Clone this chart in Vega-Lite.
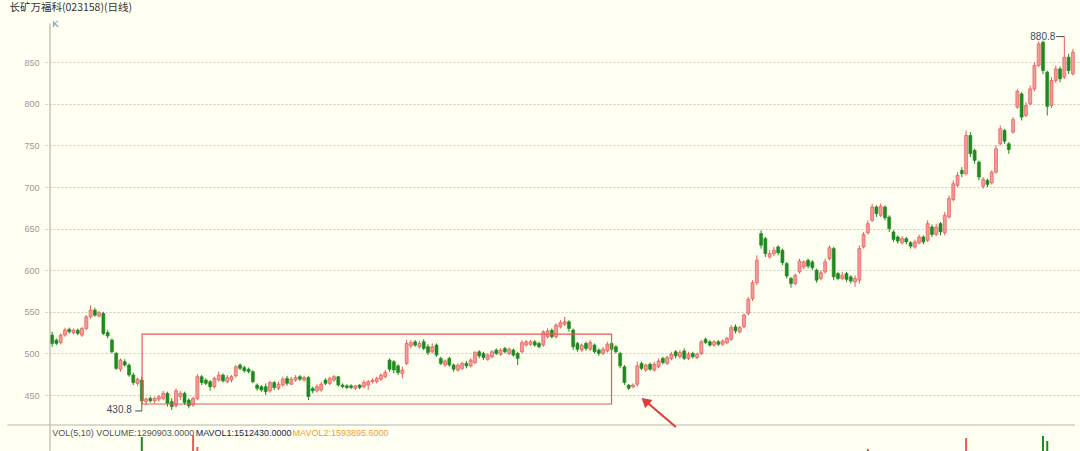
{
  "$schema": "https://vega.github.io/schema/vega-lite/v6.json",
  "width": 1035,
  "height": 451,
  "autosize": {"type": "none"},
  "padding": {"left": 45, "top": 0, "right": 0, "bottom": 0},
  "background": "#fffff2",
  "config": {"view": {"stroke": null}},
  "datasets": {
    "k": [
{"t":0,"o":522,"h":526,"l":508,"c":512,"v":1350000},
{"t":1,"o":516,"h":518,"l":510,"c":512,"v":1120000},
{"t":2,"o":513,"h":524,"l":511,"c":522,"v":1280000},
{"t":3,"o":522,"h":531,"l":520,"c":528,"v":1410000},
{"t":4,"o":529,"h":531,"l":524,"c":526,"v":980000},
{"t":5,"o":525,"h":530,"l":523,"c":528,"v":1050000},
{"t":6,"o":528,"h":530,"l":522,"c":524,"v":920000},
{"t":7,"o":522,"h":532,"l":520,"c":530,"v":1330000},
{"t":8,"o":530,"h":546,"l":528,"c":544,"v":1760000},
{"t":9,"o":544,"h":558,"l":542,"c":552,"v":1980000},
{"t":10,"o":552,"h":555,"l":544,"c":546,"v":1540000},
{"t":11,"o":545,"h":551,"l":543,"c":549,"v":1210000},
{"t":12,"o":548,"h":550,"l":522,"c":524,"v":1690000},
{"t":13,"o":525,"h":528,"l":518,"c":521,"v":1240000},
{"t":14,"o":516,"h":518,"l":500,"c":502,"v":1580000},
{"t":15,"o":500,"h":502,"l":480,"c":482,"v":1870000},
{"t":16,"o":481,"h":494,"l":478,"c":492,"v":1460000},
{"t":17,"o":490,"h":493,"l":484,"c":486,"v":1120000},
{"t":18,"o":486,"h":488,"l":472,"c":474,"v":1390000},
{"t":19,"o":474,"h":477,"l":462,"c":465,"v":1520000},
{"t":20,"o":464,"h":471,"l":461,"c":469,"v":1180000},
{"t":21,"o":468,"h":472,"l":430.8,"c":443,"v":2657000},
{"t":22,"o":442,"h":447,"l":438,"c":445,"v":1650000},
{"t":23,"o":446,"h":448,"l":441,"c":443,"v":1240000},
{"t":24,"o":443,"h":448,"l":440,"c":446,"v":1080000},
{"t":25,"o":445,"h":450,"l":442,"c":448,"v":990000},
{"t":26,"o":446,"h":455,"l":444,"c":452,"v":1150000},
{"t":27,"o":452,"h":454,"l":436,"c":440,"v":1430000},
{"t":28,"o":442,"h":446,"l":432,"c":436,"v":1560000},
{"t":29,"o":437,"h":458,"l":435,"c":455,"v":1720000},
{"t":30,"o":448,"h":455,"l":444,"c":452,"v":1310000},
{"t":31,"o":452,"h":454,"l":438,"c":441,"v":1260000},
{"t":32,"o":444,"h":446,"l":434,"c":437,"v":1190000},
{"t":33,"o":438,"h":448,"l":436,"c":446,"v":2714000},
{"t":34,"o":446,"h":475,"l":444,"c":472,"v":2371000},
{"t":35,"o":472,"h":474,"l":462,"c":465,"v":1840000},
{"t":36,"o":468,"h":470,"l":462,"c":464,"v":1420000},
{"t":37,"o":466,"h":468,"l":455,"c":460,"v":1260000},
{"t":38,"o":460,"h":472,"l":458,"c":470,"v":1380000},
{"t":39,"o":468,"h":478,"l":466,"c":474,"v":1450000},
{"t":40,"o":474,"h":476,"l":465,"c":467,"v":1170000},
{"t":41,"o":466,"h":474,"l":464,"c":471,"v":1090000},
{"t":42,"o":468,"h":474,"l":465,"c":472,"v":1010000},
{"t":43,"o":473,"h":486,"l":471,"c":484,"v":1540000},
{"t":44,"o":486,"h":488,"l":480,"c":482,"v":1320000},
{"t":45,"o":483,"h":485,"l":477,"c":479,"v":1150000},
{"t":46,"o":481,"h":483,"l":476,"c":478,"v":1060000},
{"t":47,"o":478,"h":480,"l":464,"c":466,"v":1480000},
{"t":48,"o":462,"h":464,"l":455,"c":458,"v":1390000},
{"t":49,"o":460,"h":462,"l":454,"c":456,"v":1120000},
{"t":50,"o":460,"h":464,"l":450,"c":454,"v":1250000},
{"t":51,"o":455,"h":467,"l":453,"c":465,"v":1360000},
{"t":52,"o":465,"h":467,"l":456,"c":459,"v":1080000},
{"t":53,"o":458,"h":466,"l":456,"c":463,"v":970000},
{"t":54,"o":462,"h":472,"l":460,"c":469,"v":1210000},
{"t":55,"o":470,"h":473,"l":461,"c":464,"v":1130000},
{"t":56,"o":463,"h":472,"l":462,"c":469,"v":1050000},
{"t":57,"o":468,"h":474,"l":466,"c":471,"v":990000},
{"t":58,"o":472,"h":474,"l":467,"c":469,"v":920000},
{"t":59,"o":468,"h":473,"l":466,"c":471,"v":1010000},
{"t":60,"o":471,"h":473,"l":444,"c":448,"v":1640000},
{"t":61,"o":458,"h":460,"l":452,"c":455,"v":1280000},
{"t":62,"o":455,"h":463,"l":453,"c":460,"v":1110000},
{"t":63,"o":456,"h":466,"l":454,"c":463,"v":1190000},
{"t":64,"o":468,"h":470,"l":462,"c":464,"v":1040000},
{"t":65,"o":464,"h":472,"l":462,"c":470,"v":1160000},
{"t":66,"o":468,"h":474,"l":466,"c":472,"v":1090000},
{"t":67,"o":472,"h":473,"l":460,"c":462,"v":1220000},
{"t":68,"o":462,"h":464,"l":458,"c":460,"v":980000},
{"t":69,"o":461,"h":463,"l":457,"c":459,"v":890000},
{"t":70,"o":461,"h":463,"l":457,"c":459,"v":860000},
{"t":71,"o":458,"h":462,"l":456,"c":461,"v":910000},
{"t":72,"o":462,"h":463,"l":457,"c":459,"v":870000},
{"t":73,"o":460,"h":468,"l":458,"c":465,"v":1020000},
{"t":74,"o":462,"h":468,"l":456,"c":466,"v":1090000},
{"t":75,"o":466,"h":470,"l":464,"c":468,"v":950000},
{"t":76,"o":466,"h":472,"l":464,"c":470,"v":1030000},
{"t":77,"o":469,"h":476,"l":467,"c":474,"v":1110000},
{"t":78,"o":472,"h":480,"l":470,"c":477,"v":1180000},
{"t":79,"o":492,"h":494,"l":478,"c":481,"v":1460000},
{"t":80,"o":490,"h":492,"l":476,"c":480,"v":1320000},
{"t":81,"o":485,"h":487,"l":474,"c":477,"v":1210000},
{"t":82,"o":476,"h":484,"l":470,"c":480,"v":1150000},
{"t":83,"o":488,"h":516,"l":486,"c":512,"v":2050000},
{"t":84,"o":509,"h":516,"l":506,"c":513,"v":1580000},
{"t":85,"o":514,"h":516,"l":508,"c":510,"v":1240000},
{"t":86,"o":508,"h":515,"l":506,"c":512,"v":1130000},
{"t":87,"o":514,"h":517,"l":504,"c":506,"v":1270000},
{"t":88,"o":508,"h":511,"l":498,"c":501,"v":1190000},
{"t":89,"o":502,"h":512,"l":500,"c":508,"v":1080000},
{"t":90,"o":510,"h":512,"l":496,"c":498,"v":1210000},
{"t":91,"o":494,"h":496,"l":486,"c":488,"v":1350000},
{"t":92,"o":486,"h":493,"l":484,"c":491,"v":1060000},
{"t":93,"o":494,"h":496,"l":484,"c":486,"v":1140000},
{"t":94,"o":486,"h":488,"l":478,"c":481,"v":1230000},
{"t":95,"o":480,"h":488,"l":478,"c":486,"v":1070000},
{"t":96,"o":482,"h":490,"l":480,"c":488,"v":1010000},
{"t":97,"o":488,"h":491,"l":482,"c":485,"v":980000},
{"t":98,"o":485,"h":494,"l":483,"c":492,"v":1120000},
{"t":99,"o":489,"h":503,"l":487,"c":501,"v":1390000},
{"t":100,"o":502,"h":504,"l":494,"c":497,"v":1210000},
{"t":101,"o":500,"h":502,"l":492,"c":495,"v":1080000},
{"t":102,"o":493,"h":500,"l":491,"c":498,"v":990000},
{"t":103,"o":496,"h":504,"l":494,"c":502,"v":1040000},
{"t":104,"o":504,"h":506,"l":498,"c":500,"v":950000},
{"t":105,"o":499,"h":506,"l":497,"c":504,"v":1010000},
{"t":106,"o":506,"h":508,"l":500,"c":502,"v":970000},
{"t":107,"o":500,"h":507,"l":498,"c":505,"v":930000},
{"t":108,"o":504,"h":506,"l":496,"c":498,"v":1060000},
{"t":109,"o":500,"h":502,"l":486,"c":494,"v":1240000},
{"t":110,"o":502,"h":516,"l":500,"c":513,"v":1470000},
{"t":111,"o":510,"h":516,"l":508,"c":514,"v":1150000},
{"t":112,"o":511,"h":516,"l":509,"c":514,"v":1060000},
{"t":113,"o":514,"h":516,"l":508,"c":510,"v":1010000},
{"t":114,"o":512,"h":514,"l":506,"c":508,"v":980000},
{"t":115,"o":510,"h":528,"l":508,"c":526,"v":1620000},
{"t":116,"o":520,"h":530,"l":518,"c":527,"v":1380000},
{"t":117,"o":528,"h":530,"l":518,"c":520,"v":1290000},
{"t":118,"o":520,"h":536,"l":518,"c":534,"v":1540000},
{"t":119,"o":532,"h":540,"l":530,"c":537,"v":1460000},
{"t":120,"o":535,"h":544,"l":533,"c":538,"v":1570000},
{"t":121,"o":538,"h":540,"l":526,"c":530,"v":1330000},
{"t":122,"o":528,"h":530,"l":504,"c":508,"v":1780000},
{"t":123,"o":512,"h":514,"l":502,"c":505,"v":1290000},
{"t":124,"o":504,"h":512,"l":502,"c":510,"v":1120000},
{"t":125,"o":512,"h":514,"l":503,"c":506,"v":1060000},
{"t":126,"o":505,"h":516,"l":503,"c":513,"v":1150000},
{"t":127,"o":510,"h":512,"l":500,"c":502,"v":1090000},
{"t":128,"o":504,"h":506,"l":497,"c":500,"v":1010000},
{"t":129,"o":500,"h":508,"l":498,"c":505,"v":970000},
{"t":130,"o":503,"h":514,"l":501,"c":511,"v":1080000},
{"t":131,"o":512,"h":514,"l":502,"c":505,"v":1190000},
{"t":132,"o":508,"h":510,"l":500,"c":502,"v":1230000},
{"t":133,"o":500,"h":502,"l":482,"c":485,"v":1680000},
{"t":134,"o":484,"h":486,"l":462,"c":465,"v":1920000},
{"t":135,"o":462,"h":463,"l":456,"c":458,"v":1390000},
{"t":136,"o":460,"h":464,"l":458,"c":462,"v":1120000},
{"t":137,"o":463,"h":490,"l":460,"c":485,"v":1850000},
{"t":138,"o":488,"h":490,"l":480,"c":482,"v":1340000},
{"t":139,"o":480,"h":488,"l":478,"c":486,"v":1120000},
{"t":140,"o":487,"h":489,"l":479,"c":481,"v":1060000},
{"t":141,"o":480,"h":490,"l":478,"c":487,"v":1150000},
{"t":142,"o":484,"h":494,"l":482,"c":491,"v":1210000},
{"t":143,"o":494,"h":496,"l":487,"c":489,"v":1080000},
{"t":144,"o":488,"h":497,"l":486,"c":495,"v":1130000},
{"t":145,"o":494,"h":502,"l":492,"c":499,"v":1190000},
{"t":146,"o":502,"h":504,"l":494,"c":497,"v":1060000},
{"t":147,"o":496,"h":504,"l":494,"c":501,"v":1010000},
{"t":148,"o":503,"h":506,"l":492,"c":494,"v":1140000},
{"t":149,"o":494,"h":502,"l":492,"c":499,"v":1030000},
{"t":150,"o":500,"h":502,"l":494,"c":496,"v":980000},
{"t":151,"o":495,"h":501,"l":493,"c":499,"v":940000},
{"t":152,"o":500,"h":516,"l":498,"c":514,"v":1560000},
{"t":153,"o":517,"h":519,"l":511,"c":513,"v":1290000},
{"t":154,"o":514,"h":516,"l":508,"c":510,"v":1110000},
{"t":155,"o":510,"h":516,"l":508,"c":514,"v":1060000},
{"t":156,"o":514,"h":516,"l":509,"c":511,"v":990000},
{"t":157,"o":511,"h":517,"l":509,"c":515,"v":1040000},
{"t":158,"o":513,"h":520,"l":511,"c":518,"v":1120000},
{"t":159,"o":517,"h":534,"l":515,"c":531,"v":1640000},
{"t":160,"o":532,"h":535,"l":524,"c":527,"v":1310000},
{"t":161,"o":526,"h":533,"l":524,"c":531,"v":1190000},
{"t":162,"o":532,"h":548,"l":530,"c":546,"v":1580000},
{"t":163,"o":548,"h":568,"l":546,"c":565,"v":1820000},
{"t":164,"o":566,"h":588,"l":563,"c":585,"v":2010000},
{"t":165,"o":585,"h":618,"l":582,"c":612,"v":2150000},
{"t":166,"o":644,"h":648,"l":626,"c":630,"v":2080000},
{"t":167,"o":638,"h":640,"l":616,"c":620,"v":1870000},
{"t":168,"o":616,"h":624,"l":614,"c":620,"v":1460000},
{"t":169,"o":620,"h":628,"l":617,"c":624,"v":1320000},
{"t":170,"o":628,"h":630,"l":618,"c":621,"v":1280000},
{"t":171,"o":624,"h":626,"l":606,"c":609,"v":1540000},
{"t":172,"o":608,"h":610,"l":590,"c":593,"v":1610000},
{"t":173,"o":590,"h":592,"l":579,"c":584,"v":1470000},
{"t":174,"o":584,"h":596,"l":582,"c":594,"v":1280000},
{"t":175,"o":598,"h":614,"l":596,"c":611,"v":1430000},
{"t":176,"o":604,"h":612,"l":601,"c":610,"v":1310000},
{"t":177,"o":612,"h":614,"l":602,"c":605,"v":1240000},
{"t":178,"o":610,"h":612,"l":600,"c":603,"v":1190000},
{"t":179,"o":600,"h":602,"l":585,"c":588,"v":1420000},
{"t":180,"o":590,"h":600,"l":588,"c":597,"v":1260000},
{"t":181,"o":598,"h":614,"l":596,"c":610,"v":1390000},
{"t":182,"o":614,"h":630,"l":612,"c":627,"v":1570000},
{"t":183,"o":626,"h":628,"l":588,"c":592,"v":1830000},
{"t":184,"o":596,"h":598,"l":588,"c":590,"v":1360000},
{"t":185,"o":590,"h":598,"l":588,"c":594,"v":1180000},
{"t":186,"o":596,"h":598,"l":586,"c":589,"v":1120000},
{"t":187,"o":592,"h":594,"l":584,"c":587,"v":1090000},
{"t":188,"o":586,"h":594,"l":580,"c":590,"v":1210000},
{"t":189,"o":588,"h":630,"l":584,"c":626,"v":1960000},
{"t":190,"o":628,"h":646,"l":626,"c":643,"v":2080000},
{"t":191,"o":645,"h":660,"l":643,"c":656,"v":2314000},
{"t":192,"o":660,"h":680,"l":658,"c":676,"v":2120000},
{"t":193,"o":676,"h":678,"l":664,"c":668,"v":1740000},
{"t":194,"o":666,"h":680,"l":664,"c":677,"v":1620000},
{"t":195,"o":676,"h":678,"l":660,"c":663,"v":1580000},
{"t":196,"o":664,"h":666,"l":646,"c":650,"v":1490000},
{"t":197,"o":646,"h":648,"l":634,"c":637,"v":1360000},
{"t":198,"o":640,"h":642,"l":632,"c":635,"v":1230000},
{"t":199,"o":633,"h":641,"l":631,"c":638,"v":1140000},
{"t":200,"o":638,"h":640,"l":631,"c":634,"v":1090000},
{"t":201,"o":633,"h":635,"l":626,"c":629,"v":1170000},
{"t":202,"o":628,"h":637,"l":626,"c":634,"v":1060000},
{"t":203,"o":633,"h":643,"l":631,"c":640,"v":1120000},
{"t":204,"o":640,"h":642,"l":631,"c":634,"v":1050000},
{"t":205,"o":636,"h":660,"l":634,"c":656,"v":1480000},
{"t":206,"o":652,"h":655,"l":640,"c":643,"v":1320000},
{"t":207,"o":643,"h":656,"l":641,"c":652,"v":1260000},
{"t":208,"o":656,"h":658,"l":642,"c":646,"v":1210000},
{"t":209,"o":645,"h":670,"l":642,"c":666,"v":1540000},
{"t":210,"o":664,"h":690,"l":662,"c":686,"v":1760000},
{"t":211,"o":685,"h":708,"l":683,"c":704,"v":1890000},
{"t":212,"o":702,"h":718,"l":700,"c":714,"v":1710000},
{"t":213,"o":720,"h":724,"l":712,"c":716,"v":1530000},
{"t":214,"o":716,"h":768,"l":714,"c":762,"v":2629000},
{"t":215,"o":762,"h":766,"l":736,"c":740,"v":2010000},
{"t":216,"o":744,"h":746,"l":728,"c":732,"v":1740000},
{"t":217,"o":730,"h":732,"l":708,"c":712,"v":1680000},
{"t":218,"o":701,"h":712,"l":698,"c":709,"v":1420000},
{"t":219,"o":708,"h":710,"l":700,"c":703,"v":1250000},
{"t":220,"o":705,"h":720,"l":703,"c":718,"v":1370000},
{"t":221,"o":718,"h":750,"l":716,"c":746,"v":1690000},
{"t":222,"o":752,"h":774,"l":750,"c":770,"v":1820000},
{"t":223,"o":768,"h":770,"l":752,"c":755,"v":1560000},
{"t":224,"o":752,"h":754,"l":740,"c":745,"v":1430000},
{"t":225,"o":766,"h":784,"l":764,"c":781,"v":1610000},
{"t":226,"o":796,"h":818,"l":794,"c":815,"v":1980000},
{"t":227,"o":812,"h":814,"l":780,"c":784,"v":1870000},
{"t":228,"o":786,"h":802,"l":784,"c":798,"v":1540000},
{"t":229,"o":800,"h":822,"l":798,"c":818,"v":1620000},
{"t":230,"o":818,"h":850,"l":815,"c":846,"v":1102000},
{"t":231,"o":846,"h":875,"l":844,"c":872,"v":1185000},
{"t":232,"o":874,"h":876,"l":836,"c":840,"v":2686000},
{"t":233,"o":838,"h":840,"l":786,"c":797,"v":2543000},
{"t":234,"o":798,"h":832,"l":795,"c":828,"v":860806},
{"t":235,"o":828,"h":846,"l":825,"c":842,"v":1602000},
{"t":236,"o":842,"h":845,"l":826,"c":830,"v":1488000},
{"t":237,"o":832,"h":880.8,"l":830,"c":856,"v":1716000},
{"t":238,"o":856,"h":860,"l":836,"c":840,"v":1465247},
{"t":239,"o":836,"h":866,"l":834,"c":862,"v":1290903}
    ],
    "one": [{}]
  },
  "resolve": {"scale": {"y": "independent"}},
  "layer": [
    {
      "layer": [
        {
          "data": {"name": "k"},
          "mark": {"type": "rule", "strokeWidth": 1},
          "encoding": {
            "x": {"field": "t", "type": "quantitative", "scale": {"domain": [-0.5, 239.5], "nice": false, "zero": false}, "axis": null},
            "y": {"field": "l", "type": "quantitative", "scale": {"domain": [382.7, 924.8], "nice": false, "zero": false},
              "axis": {"values": [450, 500, 550, 600, 650, 700, 750, 800, 850], "grid": true, "gridDash": [2, 2], "gridColor": "#c9c9c0", "gridWidth": 1, "domain": false, "ticks": false, "labelPadding": 6, "labelColor": "#9a9a9a", "labelFontSize": 9, "labelFont": "Liberation Sans", "title": null, "minExtent": 45, "maxExtent": 45}},
            "y2": {"field": "h"},
            "color": {"condition": {"test": "datum.c >= datum.o", "value": "#ec5a5a"}, "value": "#1f8a1f"}
          }
        },
        {
          "data": {"name": "k"},
          "mark": {"type": "bar", "width": 3, "strokeWidth": 0.6},
          "encoding": {
            "x": {"field": "t", "type": "quantitative", "scale": {"domain": [-0.5, 239.5], "nice": false, "zero": false}, "axis": null},
            "y": {"field": "o", "type": "quantitative", "scale": {"domain": [382.7, 924.8], "nice": false, "zero": false}},
            "y2": {"field": "c"},
            "fill": {"condition": {"test": "datum.c >= datum.o", "value": "#f49a9a"}, "value": "#1f8a1f"},
            "stroke": {"condition": {"test": "datum.c >= datum.o", "value": "#e84848"}, "value": "#1f8a1f"}
          }
        },
        {
          "data": {"name": "one"},
          "mark": {"type": "rect", "fill": null, "filled": false, "stroke": "#e35a5a", "strokeWidth": 1.2},
          "encoding": {
            "x": {"datum": 21.06, "type": "quantitative", "scale": {"domain": [-0.5, 239.5], "nice": false, "zero": false}, "axis": null},
            "x2": {"datum": 130.98},
            "y": {"datum": 523.3, "type": "quantitative", "scale": {"domain": [382.7, 924.8], "nice": false, "zero": false}},
            "y2": {"datum": 439.2}
          }
        },
        {
          "data": {"name": "one"},
          "mark": {"type": "rule", "color": "#a9a9a0", "strokeWidth": 1},
          "encoding": {
            "x": {"datum": -0.5, "type": "quantitative", "scale": {"domain": [-0.5, 239.5], "nice": false, "zero": false}, "axis": null},
            "y": {"datum": 896.6, "type": "quantitative", "scale": {"domain": [382.7, 924.8], "nice": false, "zero": false}},
            "y2": {"datum": 382.7}
          }
        },
        {
          "data": {"name": "one"},
          "mark": {"type": "rule", "color": "#b4b4aa", "strokeWidth": 1},
          "encoding": {
            "x": {"datum": -10.47, "type": "quantitative", "scale": {"domain": [-0.5, 239.5], "nice": false, "zero": false}, "axis": null},
            "x2": {"datum": 239.5},
            "y": {"datum": 413.94, "type": "quantitative", "scale": {"domain": [382.7, 924.8], "nice": false, "zero": false}}
          }
        },
        {
          "data": {"name": "one"},
          "mark": {"type": "rule", "color": "#e53935", "strokeWidth": 2},
          "encoding": {
            "x": {"datum": 146.05, "type": "quantitative", "scale": {"domain": [-0.5, 239.5], "nice": false, "zero": false}, "axis": null},
            "x2": {"datum": 139.4},
            "y": {"datum": 411.5, "type": "quantitative", "scale": {"domain": [382.7, 924.8], "nice": false, "zero": false}},
            "y2": {"datum": 440.6}
          }
        },
        {
          "data": {"name": "one"},
          "mark": {"type": "point", "shape": "triangle-up", "filled": true, "color": "#e53935", "opacity": 1, "size": 120, "angle": 311},
          "encoding": {
            "x": {"datum": 138.86, "type": "quantitative", "scale": {"domain": [-0.5, 239.5], "nice": false, "zero": false}, "axis": null},
            "y": {"datum": 442.8, "type": "quantitative", "scale": {"domain": [382.7, 924.8], "nice": false, "zero": false}}
          }
        },
        {
          "data": {"name": "k"},
          "transform": [{"filter": "datum.t == 21"}],
          "mark": {"type": "rule", "color": "#3c4a66", "strokeWidth": 1},
          "encoding": {
            "x": {"field": "t", "type": "quantitative", "scale": {"domain": [-0.5, 239.5], "nice": false, "zero": false}, "axis": null},
            "x2": {"datum": 19.45},
            "y": {"field": "l", "type": "quantitative", "scale": {"domain": [382.7, 924.8], "nice": false, "zero": false}}
          }
        },
        {
          "data": {"name": "k"},
          "transform": [{"filter": "datum.t == 21"}],
          "mark": {"type": "text", "align": "right", "baseline": "middle", "dx": -10, "dy": -1, "font": "Liberation Sans", "fontSize": 10, "color": "#3c4a66"},
          "encoding": {
            "x": {"field": "t", "type": "quantitative", "scale": {"domain": [-0.5, 239.5], "nice": false, "zero": false}, "axis": null},
            "y": {"field": "l", "type": "quantitative", "scale": {"domain": [382.7, 924.8], "nice": false, "zero": false}},
            "text": {"field": "l", "type": "quantitative", "format": ".1f"}
          }
        },
        {
          "data": {"name": "k"},
          "transform": [{"filter": "datum.t == 237"}],
          "mark": {"type": "rule", "color": "#3c4a66", "strokeWidth": 1},
          "encoding": {
            "x": {"field": "t", "type": "quantitative", "scale": {"domain": [-0.5, 239.5], "nice": false, "zero": false}, "axis": null},
            "x2": {"datum": 235.1},
            "y": {"field": "h", "type": "quantitative", "scale": {"domain": [382.7, 924.8], "nice": false, "zero": false}}
          }
        },
        {
          "data": {"name": "k"},
          "transform": [{"filter": "datum.t == 237"}],
          "mark": {"type": "text", "align": "right", "baseline": "middle", "dx": -9, "dy": 0, "font": "Liberation Sans", "fontSize": 10, "color": "#3c4a66"},
          "encoding": {
            "x": {"field": "t", "type": "quantitative", "scale": {"domain": [-0.5, 239.5], "nice": false, "zero": false}, "axis": null},
            "y": {"field": "h", "type": "quantitative", "scale": {"domain": [382.7, 924.8], "nice": false, "zero": false}},
            "text": {"field": "h", "type": "quantitative", "format": ".1f"}
          }
        },
        {
          "data": {"name": "one"},
          "mark": {"type": "text", "align": "left", "baseline": "middle", "font": "Noto Sans CJK SC", "fontSize": 10.5, "color": "#333333", "text": "长矿万福科(023158)(日线)"},
          "encoding": {
            "x": {"datum": -10.0, "type": "quantitative", "scale": {"domain": [-0.5, 239.5], "nice": false, "zero": false}, "axis": null},
            "y": {"datum": 915.1, "type": "quantitative", "scale": {"domain": [382.7, 924.8], "nice": false, "zero": false}}
          }
        },
        {
          "data": {"name": "one"},
          "mark": {"type": "text", "align": "left", "baseline": "middle", "font": "Liberation Sans", "fontSize": 9, "color": "#777777", "text": "K"},
          "encoding": {
            "x": {"datum": 0.1, "type": "quantitative", "scale": {"domain": [-0.5, 239.5], "nice": false, "zero": false}, "axis": null},
            "y": {"datum": 895.9, "type": "quantitative", "scale": {"domain": [382.7, 924.8], "nice": false, "zero": false}}
          }
        },
        {
          "data": {"name": "one"},
          "mark": {"type": "text", "align": "left", "baseline": "middle", "font": "Liberation Sans", "fontSize": 9, "color": "#555555", "text": "VOL(5,10) VOLUME:1290903.0000"},
          "encoding": {
            "x": {"datum": 0.0, "type": "quantitative", "scale": {"domain": [-0.5, 239.5], "nice": false, "zero": false}, "axis": null},
            "y": {"datum": 404.3, "type": "quantitative", "scale": {"domain": [382.7, 924.8], "nice": false, "zero": false}}
          }
        },
        {
          "data": {"name": "one"},
          "mark": {"type": "text", "align": "left", "baseline": "middle", "font": "Liberation Sans", "fontSize": 9, "color": "#22264a", "text": "MAVOL1:1512430.0000"},
          "encoding": {
            "x": {"datum": 33.6, "type": "quantitative", "scale": {"domain": [-0.5, 239.5], "nice": false, "zero": false}, "axis": null},
            "y": {"datum": 404.3, "type": "quantitative", "scale": {"domain": [382.7, 924.8], "nice": false, "zero": false}}
          }
        },
        {
          "data": {"name": "one"},
          "mark": {"type": "text", "align": "left", "baseline": "middle", "font": "Liberation Sans", "fontSize": 9, "color": "#f0a030", "text": "MAVOL2:1593895.6000"},
          "encoding": {
            "x": {"datum": 56.3, "type": "quantitative", "scale": {"domain": [-0.5, 239.5], "nice": false, "zero": false}, "axis": null},
            "y": {"datum": 404.3, "type": "quantitative", "scale": {"domain": [382.7, 924.8], "nice": false, "zero": false}}
          }
        }
      ]
    },
    {
      "data": {"name": "k"},
      "mark": {"type": "bar", "width": 2, "clip": true},
      "encoding": {
        "x": {"field": "t", "type": "quantitative", "scale": {"domain": [-0.5, 239.5], "nice": false, "zero": false}, "axis": null},
        "y": {"field": "v", "type": "quantitative", "scale": {"domain": [2257000, 15143000], "nice": false, "zero": false}, "axis": null},
        "y2": {"datum": 0},
        "color": {"condition": {"test": "datum.c >= datum.o", "value": "#ec5a5a"}, "value": "#1f8a1f"}
      }
    }
  ]
}
